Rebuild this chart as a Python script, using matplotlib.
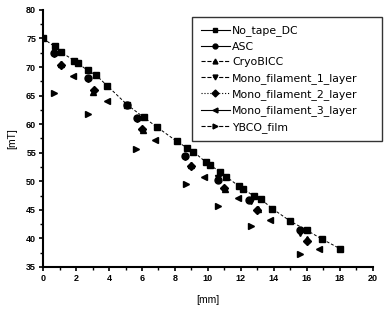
import numpy as np
import matplotlib.pyplot as plt
from matplotlib.lines import Line2D

# No_tape_DC
x_dc = [0.0, 0.7, 1.1, 1.9, 2.1, 2.7, 3.2, 3.9, 5.1, 6.1, 6.9, 8.1, 8.7, 9.1,
        9.9, 10.1, 10.7, 11.1, 11.9, 12.1, 12.8, 13.2, 13.9, 15.0, 16.0, 16.9, 18.0]
y_dc = [75.0, 73.6, 72.6, 71.1, 70.7, 69.4, 68.6, 66.7, 63.4, 61.2, 59.5, 57.0, 55.9, 55.2,
        53.3, 52.9, 51.7, 50.8, 49.1, 48.7, 47.4, 46.9, 45.2, 43.0, 41.4, 39.9, 38.2]

x_asc = [0.67, 2.7, 5.07, 5.68, 8.6, 10.6, 12.5, 15.6]
y_asc = [72.4, 68.1, 63.4, 61.1, 54.5, 50.3, 46.8, 41.4]

x_cryo = [1.07, 3.05, 6.04, 8.97, 11.03, 13.05, 15.98]
y_cryo = [70.5, 65.7, 59.0, 52.9, 48.6, 45.2, 39.8]

x_m1 = [0.67, 2.7, 5.7, 8.6, 10.6, 12.6, 15.6]
y_m1 = [72.2, 67.9, 60.9, 54.3, 50.5, 46.6, 41.0]

x_m2 = [1.1, 3.1, 6.0, 9.0, 11.0, 13.0, 16.0]
y_m2 = [70.3, 65.9, 59.2, 52.6, 48.8, 45.0, 39.6]

x_m3 = [1.8, 3.86, 6.79, 9.76, 11.8, 13.76, 16.75]
y_m3 = [68.5, 64.0, 57.3, 50.7, 47.1, 43.3, 38.2]

x_ybco = [0.67, 2.7, 5.64, 8.67, 10.6, 12.6, 15.6]
y_ybco = [65.5, 61.8, 55.7, 49.5, 45.6, 42.2, 37.3]

labels = ["No_tape_DC", "ASC", "CryoBICC", "Mono_filament_1_layer",
          "Mono_filament_2_layer", "Mono_filament_3_layer", "YBCO_film"]
markers = ["s", "o", "^", "v", "D", "<", ">"]
legend_styles = ["-", "-", "--", "--", ":", "-", "--"]

plt.rcParams['font.family'] = ['Liberation Sans', 'DejaVu Sans']
fig = plt.figure(figsize=(3.88, 3.10), dpi=100)
ax = fig.add_axes([0.111, 0.139, 0.85, 0.829])

ax.plot(x_dc, y_dc, color="black", linestyle=(0, (3, 2)), linewidth=0.7)
series = [(x_dc, y_dc), (x_asc, y_asc), (x_cryo, y_cryo), (x_m1, y_m1),
          (x_m2, y_m2), (x_m3, y_m3), (x_ybco, y_ybco)]
for (xs, ys), m in zip(series, markers):
    ms = 4 if m == "D" else 5
    ax.plot(xs, ys, linestyle="none", marker=m, color="black", markersize=ms)

ax.set_xlim(0, 20)
ax.set_ylim(35, 80)
ax.set_xticks(np.arange(0, 21, 2))
ax.set_xticks(np.arange(0, 21, 1), minor=True)
ax.set_yticks(np.arange(35, 81, 5))
ax.set_yticks(np.arange(35, 81, 2.5), minor=True)
ax.spines["top"].set_visible(False)
ax.spines["right"].set_visible(False)
ax.spines["left"].set_linewidth(1.5)
ax.spines["bottom"].set_linewidth(1.5)
ax.tick_params(which="major", direction="out", length=3, width=1.2, labelsize=6.5, pad=2)
ax.tick_params(which="minor", direction="out", length=2, width=1)
for lab in ax.get_xticklabels() + ax.get_yticklabels():
    lab.set_fontweight("bold")

ax.set_xlabel("[mm]", fontsize=7.5, labelpad=9)
ax.set_ylabel("[mT]", fontsize=7.5, labelpad=6)

handles = [Line2D([0], [0], color="black", linestyle=ls, linewidth=0.8, marker=m,
                  markersize=3.5) for m, ls in zip(markers, legend_styles)]
leg = ax.legend(handles, labels, loc="upper left",
                bbox_to_anchor=(0.4515, 0.5, 0.575, 0.473), mode="expand",
                prop={"family": "DejaVu Sans", "size": 7.8},
                frameon=True, fancybox=False, edgecolor="black",
                handlelength=2.7, handletextpad=0.2, labelspacing=0.5,
                borderpad=0.8, borderaxespad=0)
leg.get_frame().set_linewidth(1.0)

fig.savefig("out.png", dpi=100)
